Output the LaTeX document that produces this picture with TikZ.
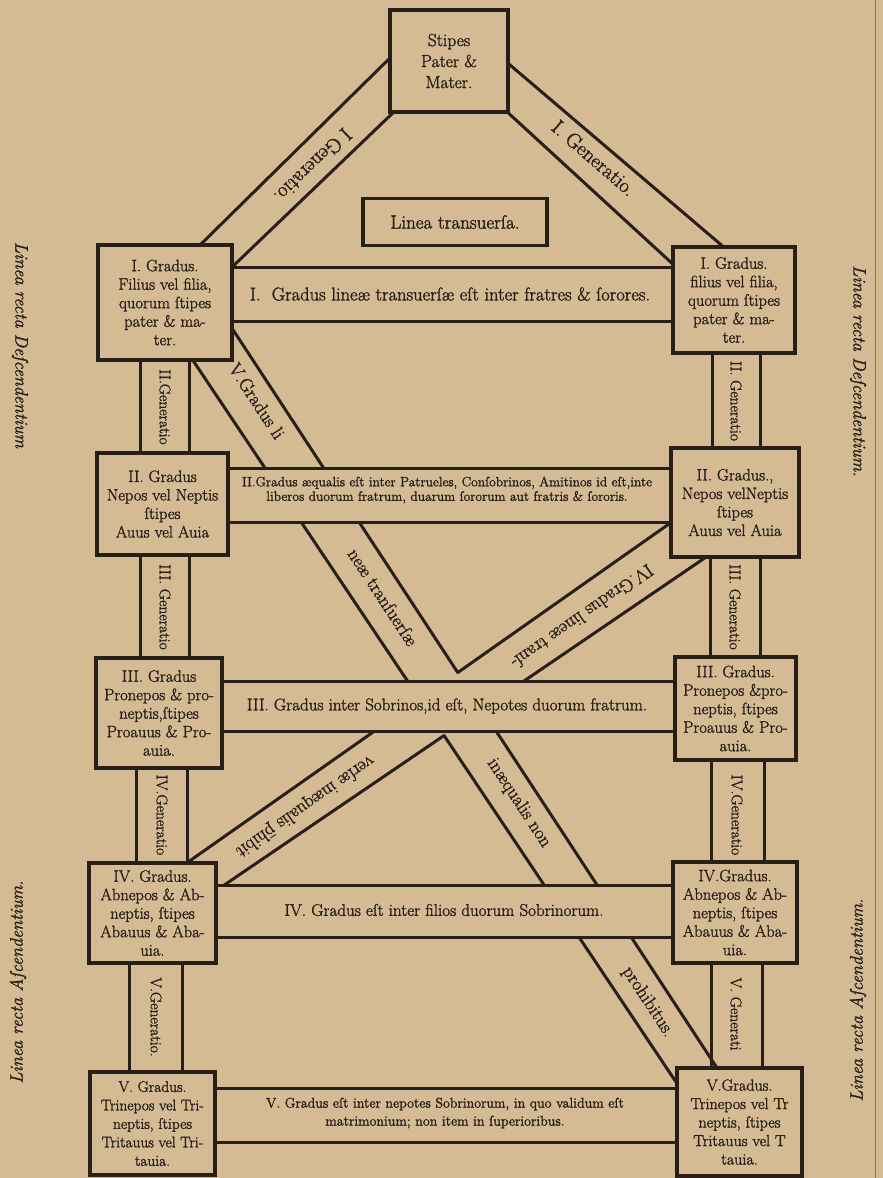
\documentclass[tikz,border=0pt]{standalone}
\usepackage{fontspec}
\setmainfont{Latin Modern Roman}[FakeBold=1.6]
\usetikzlibrary{calc}
\definecolor{paper}{RGB}{212,187,148}
\definecolor{ink}{RGB}{40,31,25}
\pgfdeclarelayer{paperl}
\pgfdeclarelayer{lines}
\pgfdeclarelayer{bands}
\pgfsetlayers{paperl,lines,bands,main}
\tikzset{
  gbox/.style={draw=ink, line width=3.4pt, fill=paper, align=center, text=ink, inner sep=2pt,
    font=\fontsize{16.5}{18.5}\selectfont},
  bandline/.style={draw=ink, line width=3pt, line cap=round},
  bandfill/.style={fill=paper},
  lbl/.style={text=ink, inner sep=0pt, align=center},
  gen/.style={lbl, font=\fontsize{15.5}{17}\selectfont},
  dlbl/.style={lbl, font=\fontsize{18.5}{20}\selectfont},
  tlbl/.style={lbl, font=\fontsize{20.5}{22}\selectfont},
  sidelbl/.style={lbl, font=\itshape\fontsize{18}{20}\selectfont},
}
\begin{document}
\begin{tikzpicture}[x=1pt,y=-1pt]
\useasboundingbox (0,0) rectangle (883,1178);
\begin{pgfonlayer}{paperl}
\fill[paper] (0,0) rectangle (883,1178);
\draw[ink!60, line width=0.8pt] (875,0) -- (875,1178);
\end{pgfonlayer}

% ---------- boxes ----------
\node[gbox, minimum width=118pt, minimum height=102pt, font=\fontsize{17.5}{21}\selectfont] (T) at (449,61) {Stipes\\Pater \&\\Mater.};
\node[gbox, minimum width=184pt, minimum height=47pt, font=\fontsize{19}{21}\selectfont] (LT) at (455,222) {Linea transuerſa.};
\node[gbox, minimum width=134pt, minimum height=115pt] (L1) at (165,302.5) {I. Gradus.\\Filius vel filia,\\quorum ſtipes\\pater \& ma-\\ter.};
\node[gbox, minimum width=122pt, minimum height=106pt] (R1) at (734,300) {I. Gradus.\\filius vel filia,\\quorum ſtipes\\pater \& ma-\\ter.};
\node[gbox, minimum width=131pt, minimum height=102pt] (L2) at (162.5,504) {II. Gradus\\Nepos vel Neptis\\ſtipes\\Auus vel Auia};
\node[gbox, minimum width=128pt, minimum height=109pt] (R2) at (735,502.5) {II. Gradus.,\\Nepos velNeptis\\ſtipes\\Auus vel Auia};
\node[gbox, minimum width=126pt, minimum height=110pt] (L3) at (159,713) {III. Gradus\\Pronepos \& pro-\\neptis,ſtipes\\Proauus \& Pro-\\auia.};
\node[gbox, minimum width=121pt, minimum height=103pt] (R3) at (735.5,708.5) {III. Gradus.\\Pronepos \&pro-\\neptis, ſtipes\\Proauus \& Pro-\\auia.};
\node[gbox, minimum width=127pt, minimum height=100pt] (L4) at (152.5,913) {IV. Gradus.\\Abnepos \& Ab-\\neptis, ſtipes\\Abauus \& Aba-\\uia.};
\node[gbox, minimum width=124pt, minimum height=101pt] (R4) at (735,912.5) {IV.Gradus.\\Abnepos \& Ab-\\neptis, ſtipes\\Abauus \& Aba-\\uia.};
\node[gbox, minimum width=125pt, minimum height=103pt, font=\fontsize{15.4}{18.5}\selectfont] (L5) at (152.5,1123.5) {V. Gradus.\\Trinepos vel Tri-\\neptis, ſtipes\\Tritauus vel Tri-\\tauia.};
\node[gbox, minimum width=125pt, minimum height=108pt, font=\fontsize{16}{18.5}\selectfont] (R5) at (739.5,1122) {V.Gradus.\\Trinepos vel Tr\\neptis, ſtipes\\Tritauus vel T\\tauia.};

% ---------- helper coordinates ----------
\coordinate (b1t) at (0,267);  \coordinate (b1b) at (0,321);
\coordinate (b2t) at (0,468);  \coordinate (b2b) at (0,522);
\coordinate (b3t) at (0,681);  \coordinate (b3b) at (0,731);
\coordinate (b4t) at (0,885);  \coordinate (b4b) at (0,937);
\coordinate (b5t) at (0,1088); \coordinate (b5b) at (0,1142);
\coordinate (va1) at (140,0); \coordinate (vb1) at (189,0);
\coordinate (va2) at (140,0); \coordinate (vb2) at (189,0);
\coordinate (va3) at (136,0); \coordinate (vb3) at (187,0);
\coordinate (va4) at (129,0); \coordinate (vb4) at (182,0);
\coordinate (wa1) at (712,0); \coordinate (wb1) at (760,0);
\coordinate (wa2) at (710,0); \coordinate (wb2) at (760,0);
\coordinate (wa3) at (711,0); \coordinate (wb3) at (764,0);
\coordinate (wa4) at (711,0); \coordinate (wb4) at (762,0);
% top diagonal bands
\coordinate (tlo0) at (393,55);  \coordinate (tlo1) at (196,249);
\coordinate (tli0) at (398,108); \coordinate (tli1) at (229,270);
\coordinate (tro0) at (503,59);  \coordinate (tro1) at (726,249);
\coordinate (tri0) at (504,109); \coordinate (tri1) at (676,267);
% long diagonal bands
\coordinate (La0) at (188,353);  \coordinate (La1) at (680,1088);
\coordinate (Lb0) at (222,313);  \coordinate (Lb1) at (719,1071);
\coordinate (Ma0) at (676,519);  \coordinate (Ma1) at (181,867);
\coordinate (Mb0) at (712,553);  \coordinate (Mb1) at (214,892);
\coordinate (apU) at (intersection of Lb0--Lb1 and Ma0--Ma1);
\coordinate (apL) at (intersection of La0--La1 and Mb0--Mb1);
\coordinate (xA) at (intersection of La0--La1 and Ma0--Ma1);
\coordinate (xB) at (intersection of Lb0--Lb1 and Mb0--Mb1);

% ---------- diagonal and vertical bands ----------
\begin{pgfonlayer}{lines}
\draw[bandline] (tlo0) -- (tlo1) (tli0) -- (tli1);
\draw[bandline] (tro0) -- (tro1) (tri0) -- (tri1);
\draw[bandline] (La0) -- (xA) (apL) -- (La1);
\draw[bandline] (Lb0) -- (apU) (xB) -- (Lb1);
\draw[bandline] (Ma0) -- (apU) (xA) -- (Ma1);
\draw[bandline] (Mb0) -- (xB) (apL) -- (Mb1);
% vertical (generation) bands
\draw[bandline] (L1.south -| va1) -- (L2.north -| va1) (L1.south -| vb1) -- (L2.north -| vb1);
\draw[bandline] (L2.south -| va2) -- (L3.north -| va2) (L2.south -| vb2) -- (L3.north -| vb2);
\draw[bandline] (L3.south -| va3) -- (L4.north -| va3) (L3.south -| vb3) -- (L4.north -| vb3);
\draw[bandline] (L4.south -| va4) -- (L5.north -| va4) (L4.south -| vb4) -- (L5.north -| vb4);
\draw[bandline] (R1.south -| wa1) -- (R2.north -| wa1) (R1.south -| wb1) -- (R2.north -| wb1);
\draw[bandline] (R2.south -| wa2) -- (R3.north -| wa2) (R2.south -| wb2) -- (R3.north -| wb2);
\draw[bandline] (R3.south -| wa3) -- (R4.north -| wa3) (R3.south -| wb3) -- (R4.north -| wb3);
\draw[bandline] (R4.south -| wa4) -- (R5.north -| wa4) (R4.south -| wb4) -- (R5.north -| wb4);
\end{pgfonlayer}

% ---------- horizontal bands ----------
\begin{pgfonlayer}{bands}
\foreach \l/\r/\t/\b in {L1/R1/b1t/b1b, L2/R2/b2t/b2b, L3/R3/b3t/b3b, L4/R4/b4t/b4b, L5/R5/b5t/b5b}{
  \fill[bandfill] (\l.east |- \t) rectangle (\r.west |- \b);
  \draw[bandline] (\l.east |- \t) -- (\r.west |- \t);
  \draw[bandline] (\l.east |- \b) -- (\r.west |- \b);
}
\end{pgfonlayer}

% ---------- band texts ----------
\node[lbl, font=\fontsize{18.5}{20}\selectfont] (h1) at (450,294) {I.\ \ Gradus lineæ transuerſæ eſt inter fratres \& ſorores.};
\node[lbl, font=\fontsize{13.5}{14.5}\selectfont] (h2) at (447,490) {II.Gradus æqualis eſt inter Patrueles, Conſobrinos, Amitinos id eſt,inte\\liberos duorum fratrum, duarum ſororum aut fratris \& ſororis.};
\node[lbl, font=\fontsize{17}{19}\selectfont] (h3) at (447,706) {III. Gradus inter Sobrinos,id eſt, Nepotes duorum fratrum.};
\node[lbl, font=\fontsize{17}{19}\selectfont] (h4) at (444,910) {IV. Gradus eſt inter filios duorum Sobrinorum.};
\node[lbl, font=\fontsize{14}{18}\selectfont] (h5) at (445,1113) {V. Gradus eſt inter nepotes Sobrinorum, in quo validum eſt\\matrimonium; non item in ſuperioribus.};

% ---------- generation labels ----------
\node[gen, rotate=-90] (g1) at (165,407) {II.Generatio};
\node[gen, rotate=-90] (g2) at (165,607) {III. Generatio};
\node[gen, rotate=-90] (g3) at (162,815) {IV.Generatio};
\node[gen, rotate=-90] (g4) at (156,1017) {V.Generatio.};
\node[gen, rotate=-90] (k1) at (736,401) {II. Generatio};
\node[gen, rotate=-90] (k2) at (735,607) {III. Generatio};
\node[gen, rotate=-90] (k3) at (737,815) {IV.Generatio};
\node[gen, rotate=-90] (k4) at (736,1014) {V. Generati};

% ---------- diagonal labels ----------
\node[tlbl, rotate=224] (d1) at (313,166) {I Generatio.};
\node[tlbl, rotate=-41] (d2) at (594,158) {I. Generatio.};
\node[dlbl, rotate=-56.8] (d3) at (257,401) {V.Gradus li};
\node[dlbl, rotate=-56.8] (d4) at (383,597) {neæ tranſuerſæ};
\node[dlbl, rotate=-56.8] (d5) at (519,803) {inæqualis non};
\node[dlbl, rotate=-56.8] (d6) at (648,1002) {prohibitus.};
\node[dlbl, rotate=215] (d7) at (582,617) {IV.Gradus lineæ tranſ-};
\node[dlbl, rotate=215] (d8) at (305,806) {verſæ inæqualis \={p}hibit};

% ---------- side labels ----------
\node[sidelbl, rotate=-90] (s1) at (20,345) {Linea recta Deſcendentium};
\node[sidelbl, rotate=-90] (s2) at (858,371) {Linea recta Deſcendentium.};
\node[sidelbl, rotate=90] (s3) at (18,982) {Linea recta Aſcendentium.};
\node[sidelbl, rotate=90] (s4) at (858,1000) {Linea recta Aſcendentium.};
\end{tikzpicture}
\end{document}
